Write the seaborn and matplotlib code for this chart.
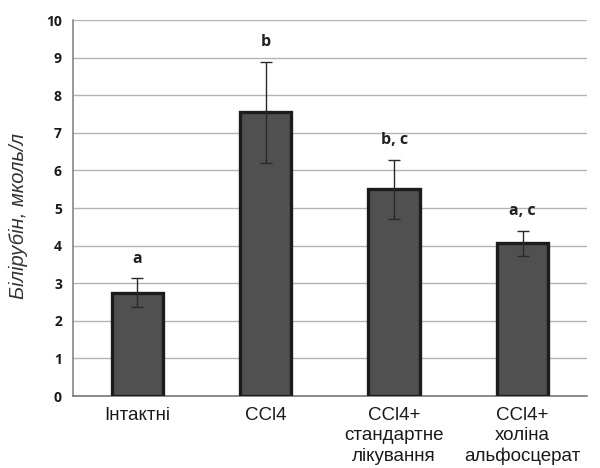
import matplotlib
matplotlib.use("Agg")
import matplotlib.pyplot as plt
import seaborn as sns
import pandas as pd
import numpy as np

# Bilirubin levels per group (mean ± error)
groups = ["Інтактні", "CCl4", "CCl4+\nстандартне\nлікування", "CCl4+\nхоліна\nальфосцерат"]
bilirubin = [2.75, 7.55, 5.50, 4.06]
errors = [0.38, 1.34, 0.78, 0.34]
letters = ["a", "b", "b, c", "a, c"]
y_ticks = [0, 1, 2, 3, 4, 5, 6, 7, 8, 9, 10]

sns.set_theme(style="white")
plt.rcParams["font.family"] = ["Liberation Sans", "DejaVu Sans"]

df = pd.DataFrame({"group": groups, "value": bilirubin})

fig = plt.figure(figsize=(6.0, 4.68), dpi=100)
ax = fig.add_axes([0.1217, 0.1538, 0.8563, 0.8034])

sns.barplot(data=df, x="group", y="value", ax=ax, color="#505050",
            width=0.4, edgecolor="#1c1c1c", linewidth=2.4, saturation=1,
            errorbar=None, zorder=3)

x_pos = np.arange(len(groups))
ax.errorbar(x_pos, bilirubin, yerr=errors, fmt="none", ecolor="#2a2a2a",
            elinewidth=1.0, capsize=4, capthick=1.0, zorder=4)

# significance letters above each error bar
for x, v, e, lab in zip(x_pos, bilirubin, errors, letters):
    ax.annotate(lab, (x, v + e), xytext=(0, 14), textcoords="offset points",
                ha="center", va="center", fontsize=11.5, fontweight="bold",
                color="#222222", family=["Open Sans", "DejaVu Sans"])

ax.set_ylim(0, 10)
ax.set_xlim(-0.5, len(groups) - 0.5)
ax.set_yticks(y_ticks)
ax.set_yticklabels([str(t) for t in y_ticks], fontsize=10, fontweight="bold",
                   color="#1a1a1a", family=["Open Sans", "DejaVu Sans"])
ax.set_xticks(x_pos)
ax.set_xticklabels(groups, fontsize=13.5, color="#1a1a1a", linespacing=1.25)
ax.tick_params(axis="x", length=0, pad=8)
ax.tick_params(axis="y", length=0, pad=8)

ax.yaxis.grid(True, color="#b4b4b4", linewidth=1.0, zorder=0)
ax.set_axisbelow(True)

for side in ["top", "right"]:
    ax.spines[side].set_visible(False)
ax.spines["left"].set_color("#888888")
ax.spines["left"].set_linewidth(1.2)
ax.spines["bottom"].set_color("#777777")
ax.spines["bottom"].set_linewidth(1.2)

ax.set_xlabel("")
ax.set_ylabel("Білірубін, мколь/л", fontsize=14.5, style="italic",
              color="#333333", va="center")
ax.yaxis.set_label_coords(-0.107, 0.479)

fig.savefig("out.png", dpi=100)
